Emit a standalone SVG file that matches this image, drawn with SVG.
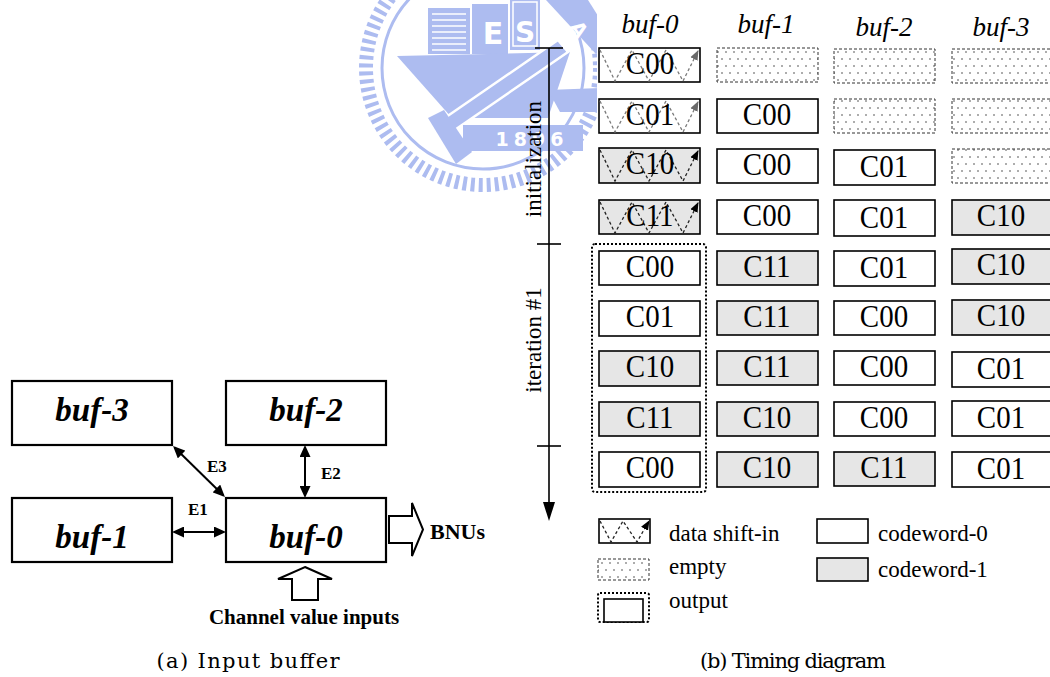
<svg xmlns="http://www.w3.org/2000/svg" xmlns:xlink="http://www.w3.org/1999/xlink" width="1050" height="677" viewBox="0 0 1050 677">
  <style>
    .bx { fill: #fff; stroke: #000; stroke-width: 1.6; }
    .gr { fill: #e6e6e6; }
    .empty { fill: url(#dots); stroke: #333; stroke-width: 1; stroke-dasharray: 3 2; }
    .cw { font-family: "Liberation Serif", "Times New Roman", serif; font-size: 29px; text-anchor: middle; fill: #000;
          transform-box: fill-box; transform-origin: center; transform: scaleY(1.12); }
    .hdr { font-family: "Liberation Serif", "Times New Roman", serif; font-size: 27px; font-style: italic; text-anchor: middle; }
    .lg { font-family: "Liberation Serif", "Times New Roman", serif; font-size: 23px; }
    .axis { stroke: #000; stroke-width: 1.6; fill: none; }
    .zz { fill: none; stroke-width: 1.3; stroke-dasharray: 3 2.5; }
    .zz-l { stroke: #7a7a7a; marker-end: url(#tipL); }
    .zz-d { stroke: #222; marker-end: url(#tipD); }
    .nb { fill: #fff; stroke: #000; stroke-width: 2.2; }
    .nt { font-family: "Liberation Serif", "Times New Roman", serif; font-size: 33px; font-weight: bold; font-style: italic; text-anchor: middle; }
    .edge { stroke: #000; stroke-width: 2; fill: none; marker-start: url(#ah); marker-end: url(#ah); }
    .el { font-family: "Liberation Serif", "Times New Roman", serif; font-size: 17px; font-weight: bold; }
    .blk { fill: #fff; stroke: #000; stroke-width: 2; stroke-linejoin: miter; }
    .bl { font-family: "Liberation Serif", "Times New Roman", serif; font-weight: bold; }
    .cap { font-family: "DejaVu Serif", "Liberation Serif", serif; font-size: 21px; text-anchor: middle; }
    .wm { fill: #adbcf0; }
    .wmt { font-family: "DejaVu Sans", "Liberation Sans", sans-serif; font-weight: bold; fill: #fff; text-anchor: middle; }
  </style>
  <defs>
    <pattern id="dots" width="8" height="14" patternUnits="userSpaceOnUse">
      <rect width="8" height="14" fill="#fff"/>
      <circle cx="2" cy="3" r="0.8" fill="#444"/>
      <circle cx="6" cy="10" r="0.8" fill="#444"/>
    </pattern>
    <marker id="tipL" markerUnits="userSpaceOnUse" markerWidth="10" markerHeight="10" viewBox="0 0 10 10" refX="9" refY="5" orient="auto">
      <path d="M0,1 L10,5 L0,9 z" fill="#6a6a6a"/>
    </marker>
    <marker id="tipD" markerUnits="userSpaceOnUse" markerWidth="10" markerHeight="10" viewBox="0 0 10 10" refX="9" refY="5" orient="auto">
      <path d="M0,1 L10,5 L0,9 z" fill="#000"/>
    </marker>
    <marker id="ah" markerUnits="userSpaceOnUse" markerWidth="12" markerHeight="11" viewBox="0 0 12 11" refX="10" refY="5.5" orient="auto-start-reverse">
      <path d="M0,0 L12,5.5 L0,11 z" fill="#000"/>
    </marker>
    <!-- dashed zig-zag used for the "data shift-in" cells -->
    <polyline id="zig" points="1,2 16,33 33,2 50,33 67,2 84,33 99,3"/>
    <polyline id="zigS" points="1,2 12,23 24,2 38,23 50,2"/>
  </defs>

  <rect width="1050" height="677" fill="#fff"/>

  <!-- faint university seal in the background -->
  <g id="seal">
    <circle cx="483" cy="68" r="117" fill="none" stroke="#adbcf0" stroke-width="14" stroke-dasharray="4 4"/>
    <circle cx="483" cy="68" r="101" fill="none" stroke="#adbcf0" stroke-width="3"/>
    <rect class="wm" x="428" y="8" width="42" height="46"/>
    <g stroke="#fff" stroke-width="1.6">
      <line x1="432" y1="14" x2="466" y2="14"/>
      <line x1="432" y1="20" x2="466" y2="20"/>
      <line x1="432" y1="26" x2="466" y2="26"/>
      <line x1="432" y1="32" x2="466" y2="32"/>
      <line x1="432" y1="38" x2="466" y2="38"/>
      <line x1="432" y1="44" x2="466" y2="44"/>
      <line x1="432" y1="50" x2="466" y2="50"/>
    </g>
    <rect class="wm" x="472" y="4" width="36" height="50"/>
    <text class="wmt" x="493" y="44" font-size="30">E</text>
    <rect class="wm" x="510" y="0" width="30" height="50"/>
    <rect x="513" y="2" width="24" height="44" fill="none" stroke="#fff" stroke-width="1.5"/>
    <text class="wmt" x="525" y="42" font-size="28">S</text>
    <polygon class="wm" points="546,0 588,0 612,38 596,54"/>
    <text class="wmt" x="578" y="36" font-size="20" transform="rotate(55 578 30)">A</text>
    <polygon class="wm" points="397,56 570,52 548,118 452,118"/>
    <polygon class="wm" points="548,90 600,88 602,112 560,112"/>
    <polygon class="wm" points="436,124 558,40 568,52 446,136" stroke="#fff" stroke-width="2.5"/>
    <polygon class="wm" points="428,118 444,110 472,152 456,164"/>
    <rect class="wm" x="463" y="125" width="120" height="26"/>
    <text class="wmt" x="532" y="146" font-size="19" letter-spacing="5">1896</text>
  </g>

  <!-- white backing of the timing table -->
  <rect x="597" y="14" width="453" height="663" fill="#fff"/>

  <!-- (a) input buffer -->
  <g id="buf-3"><rect class="nb" x="12" y="381" width="160" height="64"/><text class="nt" x="92" y="421">buf-3</text></g>
  <g id="buf-2"><rect class="nb" x="226" y="381" width="160" height="64"/><text class="nt" x="306" y="421">buf-2</text></g>
  <g id="buf-1"><rect class="nb" x="12" y="498" width="160" height="64"/><text class="nt" x="92" y="548">buf-1</text></g>
  <g id="buf-0"><rect class="nb" x="226" y="498" width="160" height="64"/><text class="nt" x="306" y="548">buf-0</text></g>

  <g id="connectors">
    <line class="edge" x1="174.5" y1="447.5" x2="223.5" y2="495.5"/>
    <line class="edge" x1="305" y1="447" x2="305" y2="496"/>
    <line class="edge" x1="174" y1="532" x2="224" y2="532"/>
    <text class="el" x="207" y="472">E3</text>
    <text class="el" x="321" y="479">E2</text>
    <text class="el" x="188" y="515">E1</text>
    <polygon class="blk" points="389,516 412,516 412,503 423,529.5 412,556 412,543 389,543"/>
    <polygon class="blk" points="305,567 332,579 318,579 318,600 292,600 292,579 278,579"/>
  </g>
  <text class="bl" x="430" y="539" font-size="22">BNUs</text>
  <text class="bl" x="304" y="624" font-size="21" text-anchor="middle">Channel value inputs</text>

  <!-- (b) timing diagram: headers -->
  <g id="headers">
    <text class="hdr" x="650" y="33">buf-0</text>
    <text class="hdr" x="766" y="33">buf-1</text>
    <text class="hdr" x="884" y="36">buf-2</text>
    <text class="hdr" x="1001" y="36">buf-3</text>
  </g>

  <!-- time axis -->
  <g id="axis">
    <line class="axis" x1="549" y1="48" x2="549" y2="504"/>
    <line class="axis" x1="535" y1="48" x2="563" y2="48"/>
    <line class="axis" x1="537" y1="244" x2="561" y2="244"/>
    <line class="axis" x1="537" y1="446" x2="561" y2="446"/>
    <polygon points="543,502 555,502 549,521" fill="#000"/>
    <text class="lg" transform="translate(541 159) rotate(-90)" text-anchor="middle">initialization</text>
    <text class="lg" transform="translate(541 340) rotate(-90)" text-anchor="middle">iteration #1</text>
  </g>

  <!-- output window over buf-0 -->
  <rect id="output-window" x="592" y="244" width="114" height="248" rx="3" fill="none" stroke="#000" stroke-width="2" stroke-dasharray="2 2"/>

  <!-- initialization rows -->
  <g id="row1">
    <rect class="bx" x="599" y="48" width="101" height="34"/>
    <use xlink:href="#zig" x="599" y="48" class="zz zz-l"/>
    <text class="cw" x="650" y="73">C00</text>
    <rect class="empty" x="717" y="48" width="101" height="34"/>
    <rect class="empty" x="834" y="49" width="101" height="34"/>
    <rect class="empty" x="952" y="49" width="101" height="34"/>
  </g>
  <g id="row2">
    <rect class="bx" x="599" y="99" width="101" height="34"/>
    <use xlink:href="#zig" x="599" y="99" class="zz zz-l"/>
    <text class="cw" x="650" y="124">C01</text>
    <rect class="bx" x="717" y="99" width="101" height="34"/>
    <text class="cw" x="767" y="124">C00</text>
    <rect class="empty" x="834" y="99" width="101" height="34"/>
    <rect class="empty" x="952" y="99" width="101" height="34"/>
  </g>
  <g id="row3">
    <rect class="bx gr" x="599" y="148" width="101" height="35"/>
    <use xlink:href="#zig" x="599" y="148" class="zz zz-d"/>
    <text class="cw" x="650" y="173">C10</text>
    <rect class="bx" x="717" y="149" width="101" height="34"/>
    <text class="cw" x="767" y="174">C00</text>
    <rect class="bx" x="834" y="150" width="101" height="35"/>
    <text class="cw" x="884" y="176">C01</text>
    <rect class="empty" x="952" y="149" width="101" height="34"/>
  </g>
  <g id="row4">
    <rect class="bx gr" x="599" y="200" width="101" height="34"/>
    <use xlink:href="#zig" x="599" y="200" class="zz zz-d"/>
    <text class="cw" x="650" y="225">C11</text>
    <rect class="bx" x="717" y="200" width="101" height="34"/>
    <text class="cw" x="767" y="225">C00</text>
    <rect class="bx" x="834" y="200" width="101" height="36"/>
    <text class="cw" x="884" y="227">C01</text>
    <rect class="bx gr" x="952" y="200" width="101" height="35"/>
    <text class="cw" x="1001" y="225">C10</text>
  </g>

  <!-- iteration #1 rows -->
  <g id="row5">
    <rect class="bx" x="599" y="251" width="101" height="34"/>
    <text class="cw" x="650" y="276">C00</text>
    <rect class="bx gr" x="717" y="251" width="101" height="34"/>
    <text class="cw" x="767" y="276">C11</text>
    <rect class="bx" x="834" y="251" width="101" height="35"/>
    <text class="cw" x="884" y="277">C01</text>
    <rect class="bx gr" x="952" y="249" width="101" height="35"/>
    <text class="cw" x="1001" y="274">C10</text>
  </g>
  <g id="row6">
    <rect class="bx" x="599" y="301" width="101" height="35"/>
    <text class="cw" x="650" y="326">C01</text>
    <rect class="bx gr" x="717" y="301" width="101" height="34"/>
    <text class="cw" x="767" y="326">C11</text>
    <rect class="bx" x="834" y="301" width="101" height="34"/>
    <text class="cw" x="884" y="326">C00</text>
    <rect class="bx gr" x="952" y="300" width="101" height="35"/>
    <text class="cw" x="1001" y="325">C10</text>
  </g>
  <g id="row7">
    <rect class="bx gr" x="599" y="351" width="101" height="35"/>
    <text class="cw" x="650" y="376">C10</text>
    <rect class="bx gr" x="717" y="351" width="101" height="34"/>
    <text class="cw" x="767" y="376">C11</text>
    <rect class="bx" x="834" y="351" width="101" height="34"/>
    <text class="cw" x="884" y="376">C00</text>
    <rect class="bx" x="952" y="352" width="101" height="35"/>
    <text class="cw" x="1001" y="378">C01</text>
  </g>
  <g id="row8">
    <rect class="bx gr" x="599" y="402" width="101" height="34"/>
    <text class="cw" x="650" y="427">C11</text>
    <rect class="bx gr" x="717" y="402" width="101" height="34"/>
    <text class="cw" x="767" y="427">C10</text>
    <rect class="bx" x="834" y="402" width="101" height="34"/>
    <text class="cw" x="884" y="427">C00</text>
    <rect class="bx" x="952" y="401" width="101" height="35"/>
    <text class="cw" x="1001" y="427">C01</text>
  </g>
  <g id="row9">
    <rect class="bx" x="599" y="452" width="101" height="35"/>
    <text class="cw" x="650" y="477">C00</text>
    <rect class="bx gr" x="717" y="452" width="101" height="35"/>
    <text class="cw" x="767" y="477">C10</text>
    <rect class="bx gr" x="834" y="452" width="101" height="34"/>
    <text class="cw" x="884" y="477">C11</text>
    <rect class="bx" x="952" y="452" width="101" height="35"/>
    <text class="cw" x="1001" y="478">C01</text>
  </g>

  <!-- legend -->
  <g id="legend">
    <rect class="bx" x="599" y="519" width="51" height="24"/>
    <use xlink:href="#zigS" x="599" y="519" class="zz zz-d"/>
    <text class="lg" x="669" y="541">data shift-in</text>
    <rect class="bx" x="817" y="519" width="51" height="24"/>
    <text class="lg" x="878" y="541">codeword-0</text>
    <rect class="empty" x="598" y="559" width="51" height="21"/>
    <text class="lg" x="669" y="574">empty</text>
    <rect class="bx gr" x="817" y="558" width="51" height="23"/>
    <text class="lg" x="878" y="577">codeword-1</text>
    <rect x="598" y="593" width="51" height="29" rx="2" fill="none" stroke="#000" stroke-width="2" stroke-dasharray="2 2"/>
    <rect class="bx" x="604" y="599" width="39" height="23"/>
    <text class="lg" x="669" y="608">output</text>
  </g>

  <!-- captions -->
  <text class="cap" x="248" y="668" textLength="183" lengthAdjust="spacing">(a) Input buffer</text>
  <text class="cap" x="793" y="668" textLength="186" lengthAdjust="spacing">(b) Timing diagram</text>
</svg>
